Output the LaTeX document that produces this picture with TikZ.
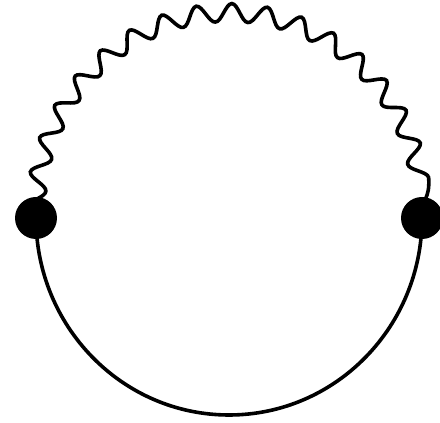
\documentclass[tikz,border=0pt]{standalone}
\usepackage{tikz}
\usetikzlibrary{decorations.pathmorphing,backgrounds}

\begin{document}
\begin{tikzpicture}[x=1pt, y=1pt, line cap=round,
  vertex/.style={circle, fill=black, inner sep=0pt, minimum size=42pt},
  fermion/.style={line width=3.6pt},
  photon/.style={line width=3.6pt, decorate,
    decoration={snake, amplitude=9pt, segment length=34.1pt}}]
\def\rx{193}
\def\ry{197}
\useasboundingbox (0,0) rectangle (440,423);
\node[vertex] (va) at (36,205) {};
\node[vertex] (vb) at (422,205) {};
\begin{scope}[on background layer]
\draw[photon] (va.center) arc[start angle=180, end angle=0, x radius=\rx, y radius=\ry];
\draw[fermion] (va.center) arc[start angle=180, end angle=360, x radius=\rx, y radius=\ry];
\end{scope}
\end{tikzpicture}
\end{document}
